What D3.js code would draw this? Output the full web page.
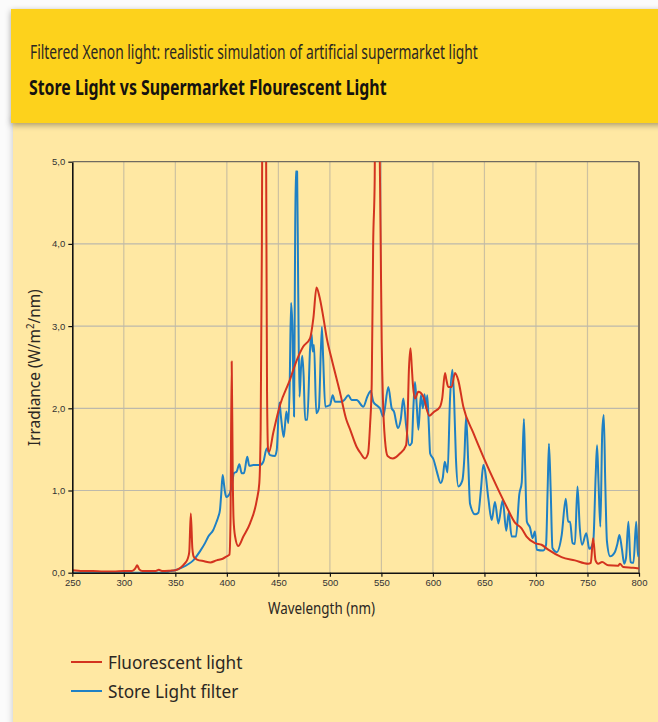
<!DOCTYPE html>
<html>
<head>
<meta charset="utf-8">
<script src="https://cdn.jsdelivr.net/npm/d3@7"></script>
<style>
  html, body { margin: 0; padding: 0; background: #ffffff; }
  svg { display: block; }
</style>
</head>
<body>
<svg id="chart" width="658" height="722"></svg>
<script>
// ---------- DATA ----------
const xTickValues = [250, 300, 350, 400, 450, 500, 550, 600, 650, 700, 750, 800];
const yTickValues = [0, 1, 2, 3, 4, 5];
const yTickLabels = ["0,0", "1,0", "2,0", "3,0", "4,0", "5,0"];
const seriesNames = ["Fluorescent light", "Store Light filter"];

const fluorescentWl = [250,260,270,280,290,300,308,311,313,315,318,325,331,334,337,345,350,355,359,362,363.5,365,366.5,368,371,378,384,390,396,400,402.5,403.5,404.7,405.7,406.5,408,411,416,422.5,429,431.5,432.8,434,435,436,437,438,439,440,441,445,451.6,461,468,474,480.7,484,487,490,493.6,497,501.7,509.7,516,519.4,526,530,534,537,539,540.6,542,543.5,545,546,547,548.3,549.3,550.3,551.5,553.5,556,561,568,573.9,575.5,576.5,578.2,579.5,580.5,582.6,585.8,590.7,596.5,600.4,606.9,609,611.7,613,614.9,618.2,621.4,624.6,629.5,639.2,648.9,661.9,671.6,679.6,686,690.9,699,705.4,711.9,724.8,737.7,750.6,753.2,755.5,757.8,760.4,764.2,770.1,779.8,781.4,784.6,794.3,800];
const fluorescentVal = [0.03,0.02,0.02,0.015,0.015,0.02,0.02,0.05,0.09,0.04,0.02,0.02,0.02,0.035,0.02,0.025,0.03,0.06,0.11,0.17,0.25,0.72,0.3,0.19,0.16,0.14,0.125,0.15,0.17,0.2,0.22,0.6,2.57,1.2,0.65,0.44,0.325,0.44,0.6,0.88,1.09,1.74,4.0,8,15,8,5.5,2.2,1.5,1.47,1.7,2.04,2.34,2.59,2.75,2.85,3.1,3.47,3.35,3.11,2.85,2.6,2.2,1.86,1.75,1.53,1.45,1.39,1.45,1.8,2.3,4.0,4.8,8,15,8,5.2,4.0,2.8,2.1,1.61,1.42,1.39,1.45,1.55,1.9,2.4,2.73,2.5,2.3,2.12,2.2,2.14,1.91,1.95,2.02,2.12,2.43,2.35,2.26,2.26,2.43,2.34,2.02,1.7,1.41,1.05,0.8,0.61,0.54,0.44,0.36,0.34,0.28,0.19,0.15,0.11,0.12,0.42,0.15,0.11,0.13,0.09,0.085,0.11,0.07,0.06,0.05];

const storeWl = [250,340,345,350,357.7,362,367.4,373.9,378.8,382,386.8,390,391.7,393.3,394.5,395.9,397,398.2,399.5,401,403,404.7,406.9,409.5,412.1,414.4,416.6,419.8,421.8,425.7,432.2,435.4,438.7,441.9,446.7,448.4,451,452.5,455.2,457.8,459.7,461,462.3,463.6,465.2,466,466.8,468.2,469.2,470.5,472,473.2,474.5,476,478.1,480.7,482.2,483.3,484.6,486.8,489.3,492.2,493.5,495.5,500.1,502.7,505,511.4,514,517.9,521.1,526,532.4,536.3,539.6,542.1,546,548.6,551.8,556.7,560,562.2,566,568.7,571.3,573.9,577.1,579.5,581,582.6,584.3,585.9,588.3,590.2,591.8,593.4,594.5,596,597.3,600.5,603.8,607.5,609.5,611.5,614.2,616.6,618.9,620.5,622.3,624.7,628.5,630.5,632.2,634.3,636,640.9,644.1,646.5,648.9,650.5,653.8,657,660.2,663.5,667.7,671.2,673.5,676.4,680.6,683.8,686.2,688.3,689.5,691.2,694.2,696.7,699,700.8,707.1,709.8,711.3,712.6,714.3,716,720.1,725,728.9,731.2,733.1,735.5,737.8,740.3,742.5,744.8,748.8,751.8,755.6,758,759.3,760.7,762.5,764.3,765.8,767.3,768.9,771.9,776.5,779,781,783.3,785.6,787.4,789.7,791.8,794.6,797.3,799,800];
const storeVal = [0,0,0.02,0.03,0.07,0.1,0.15,0.26,0.36,0.44,0.52,0.62,0.68,0.76,0.95,1.19,1.1,0.98,0.92,0.93,0.97,1.05,1.21,1.23,1.32,1.21,1.21,1.41,1.3,1.31,1.31,1.35,1.51,1.43,1.42,1.49,2.07,1.9,1.65,1.96,1.82,2.3,3.28,3.0,1.9,3.5,4.88,4.88,3.5,2.14,2.5,2.64,2.4,1.86,1.86,2.71,2.91,2.69,2.77,1.94,2.0,2.99,2.6,2.02,2.04,2.16,2.08,2.08,2.1,2.16,2.1,2.1,2.02,2.14,2.21,2.08,2.03,2.0,1.9,2.26,2.0,1.96,1.76,1.86,2.12,1.8,1.55,1.58,2.0,2.32,2.03,1.74,2.16,2.0,2.17,2.0,2.16,1.8,1.45,1.38,1.23,1.09,1.15,1.35,1.22,2.12,2.47,2.13,1.4,1.05,1.12,1.4,1.9,1.33,0.84,0.71,0.73,1.0,1.31,1.25,0.9,0.64,0.86,0.6,0.88,0.51,0.73,0.44,0.44,0.95,1.1,1.87,1.3,0.62,0.55,0.42,0.5,0.28,0.27,0.34,1.0,1.57,1.0,0.3,0.25,0.46,0.9,0.62,0.62,0.36,0.35,1.05,0.55,0.34,0.48,0.29,0.38,1.2,1.55,1.1,0.56,1.7,1.92,1.07,0.38,0.2,0.25,0.35,0.46,0.3,0.11,0.18,0.62,0.13,0.12,0.62,0.2,0.25];

// ---------- LAYOUT ----------
const svg = d3.select("#chart");
const W = 658, H = 722;
const plot = { left: 72.3, right: 639, top: 161.7, bottom: 572.7 };

const defs = svg.append("defs");
const sh = defs.append("filter").attr("id", "shadow").attr("x", "-5%").attr("y", "-5%").attr("width", "110%").attr("height", "115%");
sh.append("feDropShadow").attr("dx", 0).attr("dy", 2).attr("stdDeviation", 3).attr("flood-color", "#000").attr("flood-opacity", 0.35);
const sh2 = defs.append("filter").attr("id", "shadow2").attr("x", "-5%").attr("y", "-5%").attr("width", "110%").attr("height", "110%");
sh2.append("feDropShadow").attr("dx", -1).attr("dy", 0).attr("stdDeviation", 3).attr("flood-color", "#000").attr("flood-opacity", 0.18);
defs.append("clipPath").attr("id", "plotClip").append("rect")
  .attr("x", plot.left).attr("y", plot.top)
  .attr("width", plot.right - plot.left).attr("height", plot.bottom - plot.top);

svg.append("rect").attr("width", W).attr("height", H).attr("fill", "#fbfbfb");
// light panel
svg.append("rect").attr("x", 13).attr("y", 118).attr("width", W).attr("height", H)
  .attr("fill", "#FFE8A3").attr("filter", "url(#shadow2)");
// header
svg.append("rect").attr("x", 11).attr("y", 9).attr("width", W).attr("height", 114)
  .attr("fill", "#FDD21F").attr("filter", "url(#shadow)");

// fit a text horizontally to a width
function fitText(g, text, x, y, width, opts) {
  const grp = g.append("g");
  const t = grp.append("text").attr("x", 0).attr("y", 0)
    .attr("font-family", opts.family || "'Noto Sans', 'Open Sans', sans-serif")
    .attr("font-size", opts.size)
    .attr("font-weight", opts.weight || "normal")
    .attr("fill", opts.fill || "#222");
  if (typeof text === "function") text(t); else t.text(text);
  const bw = t.node().getBBox().width;
  const s = width / bw;
  grp.attr("transform", `translate(${x},${y}) rotate(${opts.rotate || 0}) scale(${s},1)`);
  return grp;
}

fitText(svg, "Filtered Xenon light: realistic simulation of artificial supermarket light", 30, 59, 448, { size: 19.5, fill: "#2b2723" });
fitText(svg, "Store Light vs Supermarket Flourescent Light", 29, 95, 358, { size: 21.5, weight: "bold", fill: "#15120f" });

// ---------- SCALES ----------
const x = d3.scaleLinear().domain([250, 800]).range([plot.left, plot.right]);
const y = d3.scaleLinear().domain([0, 5]).range([plot.bottom, plot.top]);

// gridlines
const grid = svg.append("g");
grid.selectAll("line.v").data(xTickValues.slice(1, -1)).join("line")
  .attr("x1", d => x(d)).attr("x2", d => x(d)).attr("y1", plot.top).attr("y2", plot.bottom)
  .attr("stroke", "#cdc1a0").attr("stroke-width", 1.2);
grid.selectAll("line.h").data(yTickValues.slice(1, -1)).join("line")
  .attr("x1", plot.left).attr("x2", plot.right).attr("y1", d => y(d)).attr("y2", d => y(d))
  .attr("stroke", "#bdb9ab").attr("stroke-width", 1.2);

// top and right borders
svg.append("line").attr("x1", plot.left).attr("x2", plot.right).attr("y1", plot.top).attr("y2", plot.top)
  .attr("stroke", "#6f6a60").attr("stroke-width", 1.2);
svg.append("line").attr("x1", plot.right).attr("x2", plot.right).attr("y1", plot.top).attr("y2", plot.bottom)
  .attr("stroke", "#857660").attr("stroke-width", 2);

// ---------- LINES ----------
const fluorescent = fluorescentWl.map((w, i) => ({ w, v: fluorescentVal[i] }));
const store = storeWl.map((w, i) => ({ w, v: storeVal[i] }));
const line = d3.line().x(d => x(d.w)).y(d => y(d.v)).curve(d3.curveMonotoneX);
const lines = svg.append("g").attr("clip-path", "url(#plotClip)");
lines.append("path").datum(store).attr("d", line)
  .attr("fill", "none").attr("stroke", "#1f80c4").attr("stroke-width", 2).attr("stroke-linejoin", "round");
lines.append("path").datum(fluorescent).attr("d", line)
  .attr("fill", "none").attr("stroke", "#d3331f").attr("stroke-width", 2).attr("stroke-linejoin", "round");

// ---------- AXES ----------
const xAxis = svg.append("g").attr("transform", `translate(0,${plot.bottom})`)
  .call(d3.axisBottom(x).tickValues(xTickValues).tickSize(4).tickSizeOuter(0).tickFormat(d => String(d)));
const yAxis = svg.append("g").attr("transform", `translate(${plot.left},0)`)
  .call(d3.axisLeft(y).tickValues(yTickValues).tickSize(4).tickSizeOuter(0).tickFormat((d, i) => yTickLabels[i]));
[xAxis, yAxis].forEach(a => {
  a.select(".domain").attr("stroke", "#111").attr("stroke-width", 1.6);
  a.selectAll(".tick line").attr("stroke", "#111").attr("stroke-width", 1.2);
  a.selectAll(".tick text").attr("fill", "#333").attr("font-size", 9.5)
    .attr("font-family", "'Liberation Sans', Arial, sans-serif");
});

// axis titles
fitText(svg, "Wavelength (nm)", 268, 614, 107, { size: 17, fill: "#2b2723" });
fitText(svg, t => {
  t.append("tspan").text("Irradiance (W/m");
  t.append("tspan").attr("font-size", 10).attr("dy", -6).text("2");
  t.append("tspan").attr("dy", 6).text("/nm)");
}, 39.5, 446, 157, { size: 16, fill: "#2b2723", rotate: -90 });

// ---------- LEGEND ----------
const legendColors = ["#d3331f", "#1f80c4"];
const legendY = [662, 691];
seriesNames.forEach((name, i) => {
  svg.append("line").attr("x1", 71).attr("x2", 102).attr("y1", legendY[i]).attr("y2", legendY[i])
    .attr("stroke", legendColors[i]).attr("stroke-width", 2);
});
fitText(svg, seriesNames[0], 108, 668.5, 135, { size: 18, fill: "#2b2723" });
fitText(svg, seriesNames[1], 108, 698, 131, { size: 18, fill: "#2b2723" });
</script>
</body>
</html>
